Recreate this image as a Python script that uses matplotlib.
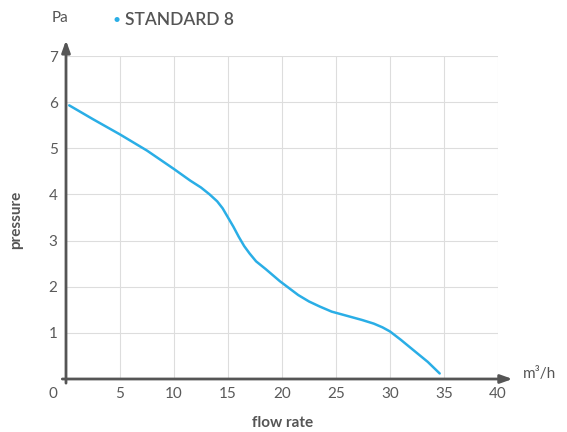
import matplotlib.pyplot as plt

# flow rate (m3/h) vs pressure (Pa)
flow = [0.3, 2.5, 5, 7.5, 10, 11.5, 12.5, 13.3, 14, 14.5, 15, 15.5, 16, 16.5, 17, 17.6,
        18.5, 19.8, 21.5, 22.5, 23.5, 24.6, 26, 27.4, 28.5, 29.3, 30, 31, 32.3, 33.5, 34.6]
pressure = [5.93, 5.63, 5.3, 4.95, 4.55, 4.3, 4.15, 4.0, 3.85, 3.7, 3.5, 3.3, 3.08, 2.88, 2.72, 2.55,
            2.38, 2.12, 1.82, 1.68, 1.57, 1.46, 1.37, 1.28, 1.2, 1.12, 1.03, 0.85, 0.6, 0.37, 0.12]

xticks = [0, 5, 10, 15, 20, 25, 30, 35, 40]
yticks = [1, 2, 3, 4, 5, 6, 7]

plt.rcParams['font.family'] = ['Lato', 'DejaVu Sans']
grey = '#555555'
blue = '#2aaee6'

fig = plt.figure(figsize=(5.67, 4.32), dpi=100)
ax = fig.add_axes([66/567, 53/432, 432/567, 323/432])

ax.plot(flow, pressure, color=blue, lw=1.8, solid_capstyle='round', solid_joinstyle='round')

ax.set_xlim(0, 40)
ax.set_ylim(0, 7)
ax.set_xticks(xticks)
ax.set_yticks(yticks)
ax.set_xticklabels(['' if t == 0 else str(t) for t in xticks])
ax.grid(True, color='#dddddd', lw=0.8)
ax.tick_params(length=0, labelsize=11, colors='#5a5a5a', pad=6)
for s in ax.spines.values():
    s.set_visible(False)

# axis arrows
ax.annotate('', xy=(41.6, 0), xytext=(-0.6, 0), xycoords='data',
            arrowprops=dict(arrowstyle='-|>,head_length=0.7,head_width=0.25', color=grey, lw=2),
            annotation_clip=False)
ax.annotate('', xy=(0, 7.4), xytext=(0, -0.15), xycoords='data',
            arrowprops=dict(arrowstyle='-|>,head_length=0.7,head_width=0.25', color=grey, lw=2),
            annotation_clip=False)

ax.text(-0.8, -0.18, '0', ha='right', va='top', fontsize=11, color='#5a5a5a')
fig.text(60/567, 1 - 18/432, 'Pa', ha='center', va='center', fontsize=11, color=grey)
fig.text(540/567, 1 - 374/432, 'm³/h', ha='center', va='center', fontsize=11, color=grey)
fig.text(16/567, 1 - 220/432, 'pressure', rotation=90, ha='center', va='center', fontsize=11,
         color=grey, fontweight='bold')
fig.text(283/567, 1 - 423/432, 'flow rate', ha='center', va='center', fontsize=11,
         color=grey, fontweight='bold')
fig.text(117/567, 1 - 20/432, '•', ha='center', va='center', fontsize=10, color=blue)
fig.text(125/567, 1 - 20/432, 'STANDARD 8', ha='left', va='center', fontsize=12.5,
         color=grey, fontweight='semibold')

fig.savefig('out.png', dpi=100)
